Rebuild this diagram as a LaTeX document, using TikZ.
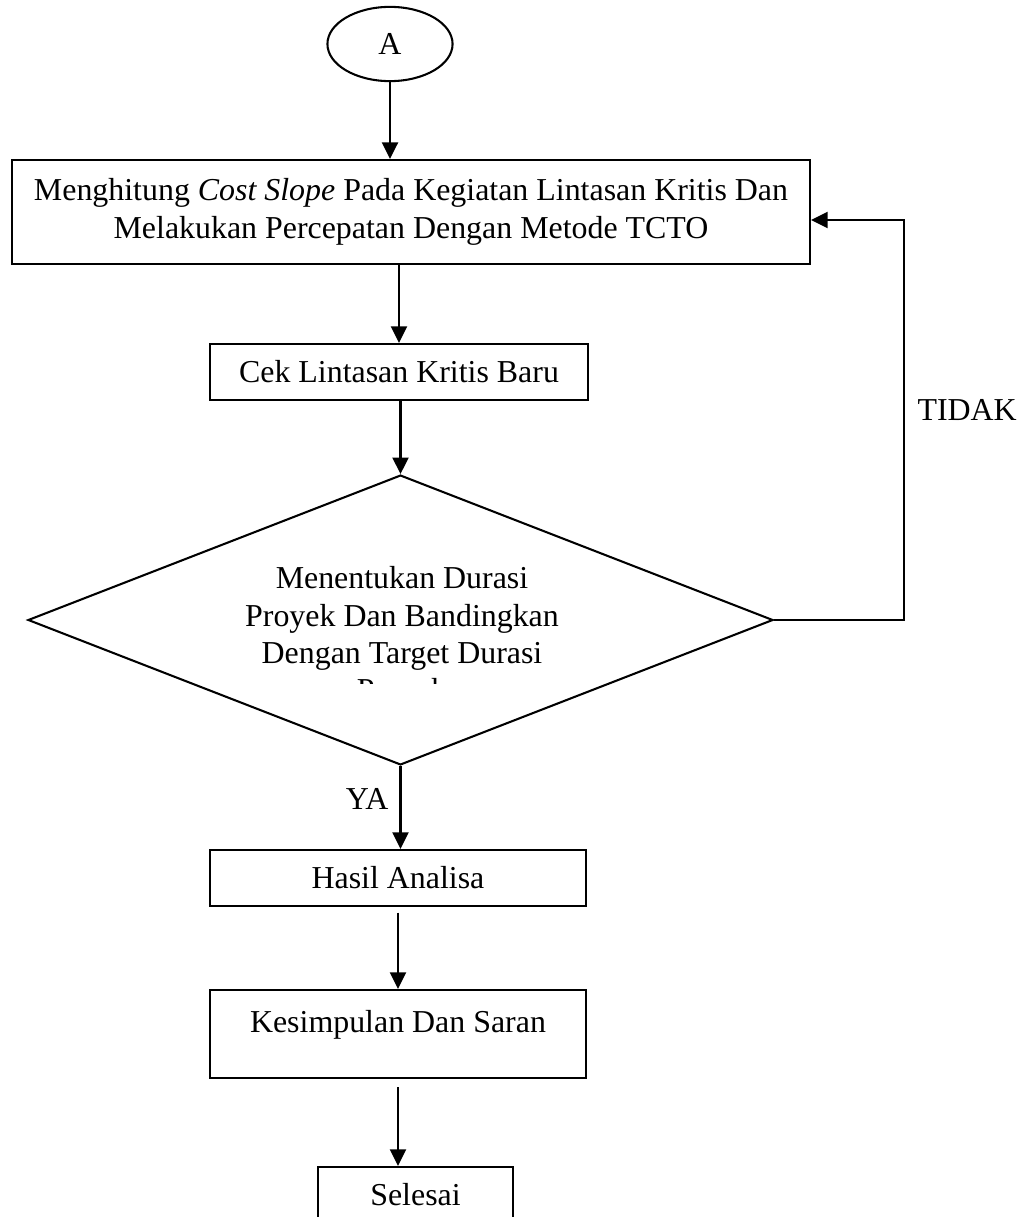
\documentclass[tikz,border=0pt]{standalone}
\usepackage{fontspec}
\setmainfont{Liberation Serif}
\usetikzlibrary{positioning,arrows.meta,shapes.geometric,calc}
\tikzset{
  procbox/.style={draw, rectangle, line width=0.75pt, align=center,
                  inner sep=0pt, font=\fontsize{11.6}{13.6}\selectfont},
  flowarrow/.style={-{Triangle[length=6pt, width=5.8pt]}, line width=0.75pt},
  flowlabel/.style={inner sep=0pt, font=\fontsize{11.6}{13.6}\selectfont},
}

\begin{document}
\begin{tikzpicture}[
  x=0.3636pt, y=-0.3636pt,
  termnode/.style={draw, ellipse, line width=0.75pt, minimum width=45.5pt,
                   minimum height=27pt, inner sep=0pt, font=\fontsize{11.6}{13.6}\selectfont},
  decnode/.style={draw, diamond, line width=0.75pt, minimum width=270.9pt,
                  minimum height=105.4pt, inner sep=0pt},
]
\clip (0,0) rectangle (1032,1217);

%% Start
\node[termnode] (start) at (390,44) {A};

%% Process boxes
\node[procbox, minimum width=290.2pt, minimum height=37.8pt] (slope) at (411,212)
  {Menghitung \textit{Cost Slope} Pada Kegiatan Lintasan Kritis Dan\\
   Melakukan Percepatan Dengan Metode TCTO};
\node[procbox, minimum width=137.4pt, minimum height=20.4pt] (cek) at (399,372)
  {Cek Lintasan Kritis Baru};

%% Decision
\node[decnode] (dec) at (400.5,620) {};
\begin{scope}
  \clip (180,560) rectangle (620,683);
  \node[flowlabel, align=center, font=\fontsize{11.6}{13.5}\selectfont] (dectext) at (402,637)
    {Menentukan Durasi\\ Proyek Dan Bandingkan\\ Dengan Target Durasi\\ Proyek};
\end{scope}

%% Lower boxes
\node[procbox, minimum width=136.7pt, minimum height=20.4pt] (hasil) at (398,878)
  {Hasil Analisa};
\node[procbox, minimum width=136.7pt, minimum height=32pt,
      text height=8.3pt, text depth=9.3pt] (simp) at (398,1034)
  {Kesimpulan Dan Saran};
\node[procbox, minimum width=70.9pt, minimum height=20.4pt] (selesai) at (415.5,1195)
  {Selesai};

%% Connectors
\draw[flowarrow] (start.south) -- (start.south |- slope.north);
\draw[flowarrow] (slope.south -| cek.north) -- (cek.north);
\draw[flowarrow] (dec.north |- cek.south) -- (dec.north);
\draw[flowarrow] (dec.south) -- (dec.south |- hasil.north)
  node[flowlabel, pos=0.4, left=4pt] (ya) {YA};
\draw[flowarrow, shorten <=2pt] (hasil.south) -- (simp.north);
\draw[flowarrow, shorten <=3pt] (simp.south) -- (simp.south |- selesai.north);

%% Loop back
\coordinate (loop) at (904,220);
\draw[flowarrow] (dec.east) -| (loop) -- (slope.east |- loop);
\node[flowlabel, anchor=west] (tidak) at (917,410) {TIDAK};
\end{tikzpicture}
\end{document}
